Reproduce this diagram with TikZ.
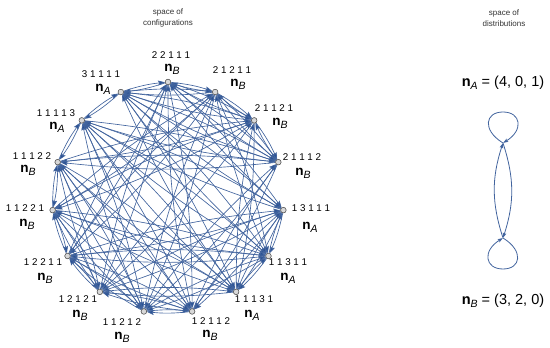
\documentclass[tikz,border=0pt]{standalone}
\usepackage{fontspec}
\setmainfont{Liberation Sans}
\usetikzlibrary{arrows.meta,calc}
\definecolor{edgeblue}{RGB}{66,100,158}
\definecolor{tipblue}{RGB}{42,82,148}
\newcommand\myn[1]{\textbf{n}\raisebox{-3pt}{\fontsize{10.5}{10.5}\selectfont\textit{#1}}}
\begin{document}
\begin{tikzpicture}[x=1pt,y=1pt,
  vert/.style={circle,draw=black!65,fill=black!15,line width=0.5pt,inner sep=0pt,minimum size=5.5pt},
  cedge/.style={draw=edgeblue,line width=0.65pt,-{Stealth[length=7pt,width=5pt,inset=1.2pt,fill=tipblue]},bend left=6},
  dedge/.style={draw=edgeblue,line width=0.8pt,-{Stealth[length=5pt,width=3.6pt,inset=1pt,fill=tipblue]}},
  numlab/.style={font=\fontsize{9.8}{9.8}\selectfont,inner sep=0pt},
  nlab/.style={font=\fontsize{13.5}{13.5}\selectfont,inner sep=0pt},
  eqlab/.style={font=\fontsize{14.5}{14.5}\selectfont,inner sep=0pt},
  ttl/.style={font=\fontsize{8}{10.5}\selectfont,align=center,text=black!80,inner sep=0pt},
  dnode/.style={inner sep=0pt,minimum size=0pt}
]
\path[use as bounding box] (0,0) rectangle (550,348);
\coordinate (C) at (168,150);
% configuration vertices
\foreach \i/\ang in {0/90,1/66,2/42,3/18,4/-6,5/-30,6/-54,7/-78,8/-102,9/-126,10/-150,11/-174,12/162,13/138,14/114}
  \node[vert] (n\i) at ($(C)+(\ang:116)$) {};
% edges (both directions)
\foreach \a/\b in {0/1,0/2,0/3,0/4,0/7,0/9,0/10,0/14,
  1/2,1/3,1/5,1/8,1/10,1/11,1/14,
  2/3,2/6,2/9,2/11,2/12,2/14,
  3/7,3/8,3/12,3/13,3/14,
  4/5,4/6,4/7,4/9,4/10,4/13,4/14,
  5/6,5/8,5/10,5/11,5/13,5/14,
  6/9,6/11,6/12,6/13,6/14,
  7/8,7/9,7/10,7/12,7/13,
  8/10,8/11,8/12,8/13,
  9/10,9/11,9/12,
  10/11,11/12,12/13,13/14}
{
  \draw[cedge] (n\a) to (n\b);
  \draw[cedge] (n\b) to (n\a);
}
% redraw vertices on top
\foreach \i/\ang in {0/90,1/66,2/42,3/18,4/-6,5/-30,6/-54,7/-78,8/-102,9/-126,10/-150,11/-174,12/162,13/138,14/114}
  \node[vert] (m\i) at ($(C)+(\ang:116)$) {};
% labels
\foreach \i/\num/\ab/\nx/\ny/\bx/\by in {
  0/{2 2 1 1 1}/B/171/292.5/172/278.5,
  1/{2 1 2 1 1}/B/232/277.5/238/263.5,
  2/{2 1 1 2 1}/B/274/240/280/225,
  3/{2 1 1 1 2}/B/302/191/303/175,
  4/{1 3 1 1 1}/A/311/140/310/121,
  5/{1 1 3 1 1}/A/288/86/288/70,
  6/{1 1 1 3 1}/A/254/49/252/33,
  7/{1 2 1 1 2}/B/211/26.5/210/12.5,
  8/{1 1 2 1 2}/B/122/26/122/11,
  9/{1 2 1 2 1}/B/78/49/80/33,
  10/{1 2 2 1 1}/B/43/86/45/70,
  11/{1 1 2 2 1}/B/25/140/27/124,
  12/{1 1 1 2 2}/B/32/192/28/177.5,
  13/{1 1 1 1 3}/A/56/234.5/57/220.5,
  14/{3 1 1 1 1}/A/101/274/103/259}
{
  \node[numlab] (num\i) at (\nx,\ny) {\num};
  \node[nlab] (lab\i) at (\bx,\by) {\myn{\ab}};
}
% titles
\node[ttl] (t1) at (168,330) {space of\\configurations};
\node[ttl] (t2) at (504,330) {space of\\distributions};
% distribution graph
\node[dnode] (A) at (503,205) {};
\node[dnode] (B) at (503,110) {};
\coordinate (TA) at (503,236);
\coordinate (TB) at (503,79);
\draw[dedge] (A) .. controls +(-21,13) and +(-18,0) .. (TA) .. controls +(18,0) and +(21,13) .. (A);
\draw[dedge] (B) .. controls +(21,-13) and +(18,0) .. (TB) .. controls +(-18,0) and +(-21,-13) .. (B);
\draw[dedge] (B) to[bend left=18] (A);
\draw[dedge] (A) to[bend left=18] (B);
\node[eqlab] (eqA) at (503,265) {\myn{A} = (4, 0, 1)};
\node[eqlab] (eqB) at (503,47) {\myn{B} = (3, 2, 0)};
\end{tikzpicture}
\end{document}
